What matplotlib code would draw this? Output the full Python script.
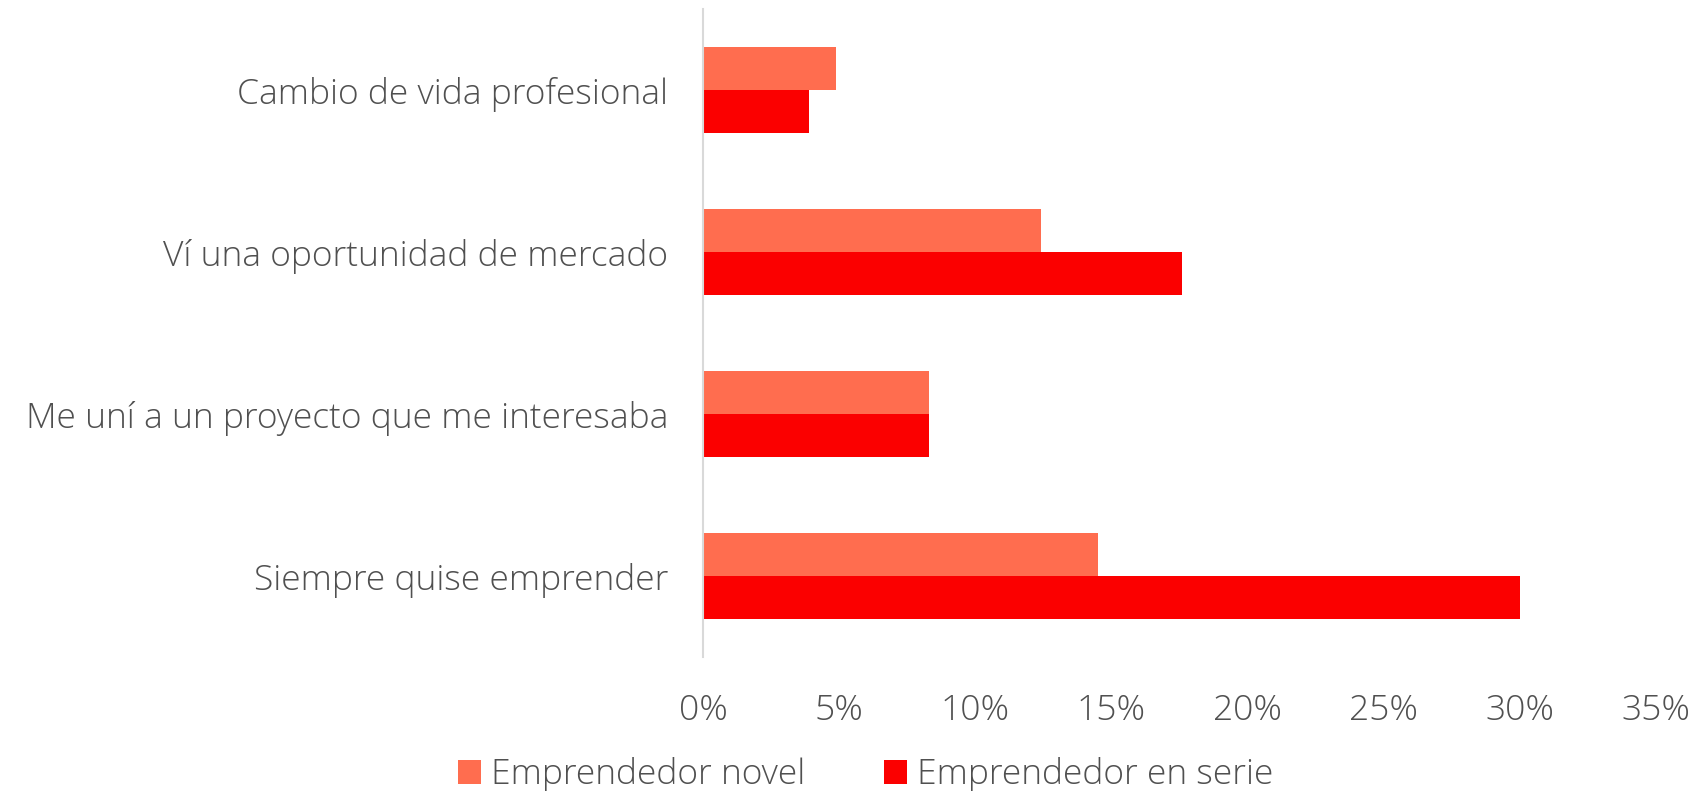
import numpy as np
import matplotlib.pyplot as plt
from matplotlib.ticker import PercentFormatter

categories = ['Cambio de vida profesional', 'Ví una oportunidad de mercado',
              'Me uní a un proyecto que me interesaba', 'Siempre quise emprender']
novel = [0.049, 0.124, 0.083, 0.145]
serie = [0.039, 0.176, 0.083, 0.300]
series_names = ['Emprendedor novel', 'Emprendedor en serie']
colors = ['#FF6D4F', '#FB0000']
text_color = '#505050'

plt.rcParams['font.family'] = ['Open Sans', 'DejaVu Sans']
plt.rcParams['font.weight'] = 'light'

fig = plt.figure(figsize=(16.94, 7.91), dpi=100)
ax = fig.add_axes([0.415, 0.1694, 0.5626, 0.8192])

y = np.arange(len(categories))
h = 0.2635
ax.barh(y - h / 2, novel, height=h, color=colors[0], label=series_names[0])
ax.barh(y + h / 2, serie, height=h, color=colors[1], label=series_names[1])

ax.set_ylim(len(categories) - 0.5, -0.5)
ax.set_xlim(0, 0.35)
ax.set_xticks(np.arange(0, 0.351, 0.05))
ax.xaxis.set_major_formatter(PercentFormatter(1.0, decimals=0))
ax.set_yticks(y)
ax.set_yticklabels(categories)

for s in ['top', 'right', 'bottom']:
    ax.spines[s].set_visible(False)
ax.spines['left'].set_color('#D9D9D9')
ax.spines['left'].set_linewidth(1.5)
ax.tick_params(axis='both', length=0, labelsize=25.5, labelcolor=text_color)
ax.tick_params(axis='y', pad=25)
ax.tick_params(axis='x', pad=26)

leg = fig.legend(loc='center', bbox_to_anchor=(0.511, 16 / 791), ncol=2, frameon=False,
                 fontsize=25.5, handlelength=0.65, handleheight=0.65, handletextpad=0.3,
                 columnspacing=2.2)
for t in leg.get_texts():
    t.set_color(text_color)

fig.savefig('out.png', dpi=100)
